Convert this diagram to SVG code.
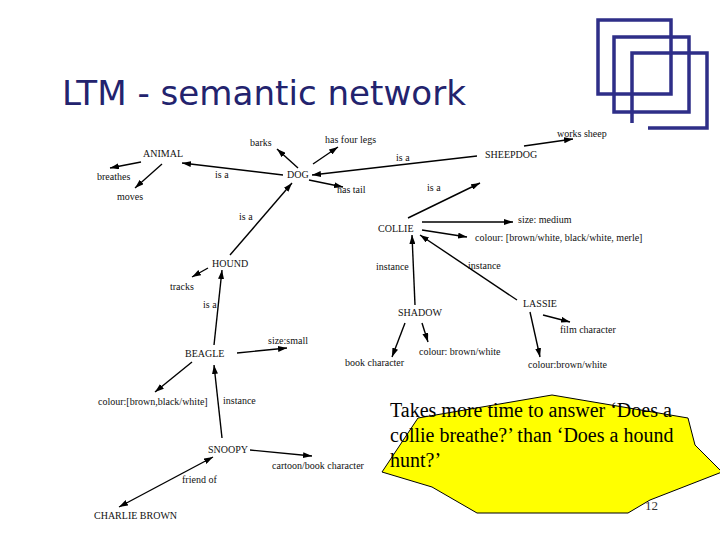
<svg xmlns="http://www.w3.org/2000/svg" width="720" height="540" viewBox="0 0 720 540">
<defs>
<marker id="ah" viewBox="0 0 9 6" refX="9" refY="3" markerWidth="9" markerHeight="6" markerUnits="userSpaceOnUse" orient="auto-start-reverse">
<path d="M0,0 L9,3 L0,6 z" fill="#000"/>
</marker>
<style>
.n{font-family:"Liberation Serif","Times New Roman",serif;font-size:10px;fill:#111}
.e{stroke:#000;stroke-width:1.4;fill:none;marker-end:url(#ah)}
.sq{stroke:#2e2e88;stroke-width:3.5;fill:none}
</style>
</defs>
<rect width="720" height="540" fill="#fff"/>
<g id="decoration">
<rect class="sq" x="598" y="20" width="73" height="74"/>
<rect class="sq" x="614" y="37" width="75" height="75"/>
<path class="sq" d="M632,123 L632,53 L707,53 L707,128 L648,128"/>
</g>
<text id="title" x="62" y="105" font-family="DejaVu Sans, sans-serif" font-size="34" fill="#23236e" textLength="404" lengthAdjust="spacingAndGlyphs">LTM - semantic network</text>
<g id="callout">
<polygon points="552,395 688,418 695,445 722,472 650,500 628,513 477,513 432,487 382,472 418,418" fill="#ffff00" stroke="#000" stroke-width="1"/>
<text font-family="Liberation Serif, Times New Roman, serif" font-size="20" fill="#000">
<tspan x="390" y="417">Takes more time to answer ‘Does a</tspan>
<tspan x="390" y="442">collie breathe?’ than ‘Does a hound</tspan>
<tspan x="390" y="467">hunt?’</tspan>
</text>
<text x="645" y="510" font-family="Liberation Serif, Times New Roman, serif" font-size="13" fill="#333">12</text>
</g>
<g id="connectors">
<path class="e" d="M141,162 L110,168"/>
<path class="e" d="M162,164 L135,188"/>
<path class="e" d="M298,168 L277,149"/>
<path class="e" d="M313,164 L338,147"/>
<path class="e" d="M283,175 L182,163"/>
<path class="e" d="M309,180 L343,187"/>
<path class="e" d="M230,255 L292,183"/>
<path class="e" d="M477,156 L312,175"/>
<path class="e" d="M524,146 L573,139"/>
<path class="e" d="M408,218 L480,183"/>
<path class="e" d="M422,222 L513,222"/>
<path class="e" d="M422,230 L467,237"/>
<path class="e" d="M415,305 L412,235"/>
<path class="e" d="M517,300 L420,235"/>
<path class="e" d="M405,323 L392,357"/>
<path class="e" d="M422,323 L428,342"/>
<path class="e" d="M543,315 L570,322"/>
<path class="e" d="M530,312 L540,357"/>
<path class="e" d="M208,268 L192,277"/>
<path class="e" d="M214,345 L222,270"/>
<path class="e" d="M237,353 L287,348"/>
<path class="e" d="M192,362 L155,392"/>
<path class="e" d="M222,438 L214,365"/>
<path class="e" d="M250,450 L312,456"/>
<path class="e" d="M213,457 L119,507" marker-start="url(#ah)"/>
<text class="n" x="215" y="178">is a</text>
<text class="n" x="239" y="220">is a</text>
<text class="n" x="396" y="161">is a</text>
<text class="n" x="427" y="191">is a</text>
<text class="n" x="203" y="308">is a</text>
<text class="n" x="376" y="270">instance</text>
<text class="n" x="468" y="269">instance</text>
<text class="n" x="223" y="404">instance</text>
<text class="n" x="182" y="483">friend of</text>
</g>
<g id="n-animal"><text class="n" x="143" y="157">ANIMAL</text></g>
<g id="n-breathes"><text class="n" x="97" y="180">breathes</text></g>
<g id="n-moves"><text class="n" x="117" y="200">moves</text></g>
<g id="n-barks"><text class="n" x="250" y="146">barks</text></g>
<g id="n-fourlegs"><text class="n" x="325" y="143">has four legs</text></g>
<g id="n-dog"><text class="n" x="287" y="178">DOG</text></g>
<g id="n-tail"><text class="n" x="337" y="193">has tail</text></g>
<g id="n-sheepdog"><text class="n" x="485" y="158">SHEEPDOG</text></g>
<g id="n-works"><text class="n" x="557" y="137">works sheep</text></g>
<g id="n-collie"><text class="n" x="378" y="232">COLLIE</text></g>
<g id="n-sizemed"><text class="n" x="518" y="223">size: medium</text></g>
<g id="n-colcollie"><text class="n" x="475" y="241">colour: [brown/white, black/white, merle]</text></g>
<g id="n-hound"><text class="n" x="212" y="267">HOUND</text></g>
<g id="n-tracks"><text class="n" x="170" y="290">tracks</text></g>
<g id="n-shadow"><text class="n" x="398" y="316">SHADOW</text></g>
<g id="n-lassie"><text class="n" x="523" y="307">LASSIE</text></g>
<g id="n-film"><text class="n" x="560" y="333">film character</text></g>
<g id="n-book"><text class="n" x="345" y="366">book character</text></g>
<g id="n-colshadow"><text class="n" x="419" y="355">colour: brown/white</text></g>
<g id="n-collassie"><text class="n" x="528" y="368">colour:brown/white</text></g>
<g id="n-beagle"><text class="n" x="185" y="357">BEAGLE</text></g>
<g id="n-sizesmall"><text class="n" x="268" y="344">size:small</text></g>
<g id="n-colbeagle"><text class="n" x="98" y="405">colour:[brown,black/white]</text></g>
<g id="n-snoopy"><text class="n" x="208" y="453">SNOOPY</text></g>
<g id="n-cartoon"><text class="n" x="272" y="469">cartoon/book character</text></g>
<g id="n-charlie"><text class="n" x="94" y="519">CHARLIE BROWN</text></g>
</svg>
